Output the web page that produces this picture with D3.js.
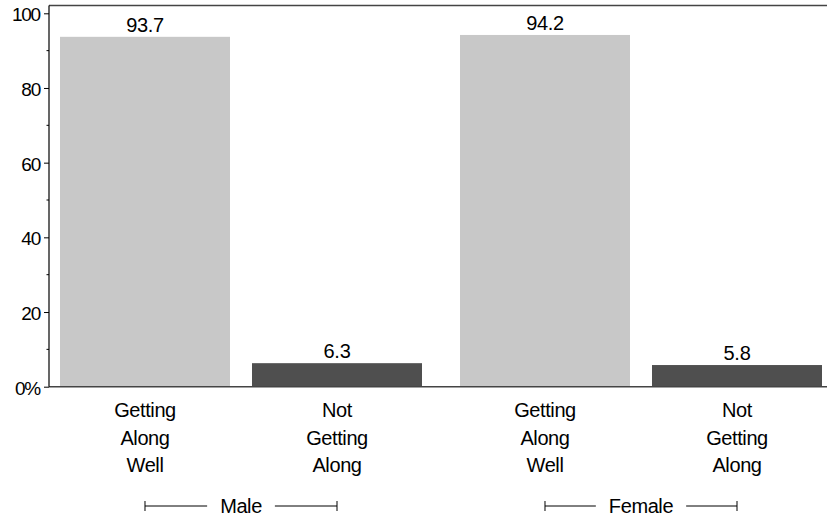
<!DOCTYPE html>
<html><head><meta charset="utf-8">
<script src="https://cdn.jsdelivr.net/npm/d3@7"></script>
<style>
body{margin:0;background:#fff;}
svg text{font-family:"Liberation Sans",Arial,Helvetica,sans-serif;fill:#000;}
</style></head>
<body><svg id="c" width="827" height="517"></svg>
<script>
const groups = ["Male", "Female"];
const categories = ["Getting Along Well", "Not Getting Along"];
const categoryLines = [["Getting", "Along", "Well"], ["Not", "Getting", "Along"]];
const maleValues = [93.7, 6.3];
const femaleValues = [94.2, 5.8];
const valueLabels = [["93.7", "6.3"], ["94.2", "5.8"]];
const yTicks = [0, 20, 40, 60, 80, 100];
const yTickLabels = ["0%", "20", "40", "60", "80", "100"];
const yMinorTicks = [10, 30, 50, 70, 90];
const colors = ["#c8c8c8", "#4f4f4f"];

(function(){
const seriesByGroup = [maleValues, femaleValues];
const svg = d3.select("#c");
const axisX = 49, frameTop = 5.5, frameRight = 827;
const y = d3.scaleLinear().domain([0, 100]).range([386.7, 13.3]);
const x0 = d3.scaleBand().domain(groups).range([60, 822]).paddingInner(0.095).paddingOuter(0);
const x1 = d3.scaleBand().domain(categories).range([0, x0.bandwidth()]).paddingInner(0.1146).paddingOuter(0);

const data = [];
groups.forEach((g, gi) => categories.forEach((c, ci) => data.push({g, c, ci, gi, v: seriesByGroup[gi][ci], label: valueLabels[gi][ci]})));

svg.selectAll("rect.bar").data(data).enter().append("rect")
  .attr("x", d => x0(d.g) + x1(d.c))
  .attr("y", d => y(d.v))
  .attr("width", x1.bandwidth())
  .attr("height", d => y(0) - y(d.v))
  .attr("fill", d => colors[d.ci]);

svg.selectAll("text.val").data(data).enter().append("text")
  .attr("x", d => x0(d.g) + x1(d.c) + x1.bandwidth() / 2)
  .attr("y", d => y(d.v) - 5)
  .attr("text-anchor", "middle")
  .style("font-size", "20px").style("letter-spacing", "-0.3px")
  .text(d => d.label);

svg.append("line").attr("x1", axisX).attr("x2", frameRight).attr("y1", frameTop).attr("y2", frameTop).attr("stroke", "#444").attr("stroke-width", 1.5);
svg.append("line").attr("x1", axisX).attr("x2", frameRight).attr("y1", y(0)).attr("y2", y(0)).attr("stroke", "#444").attr("stroke-width", 1.5);

const yAxis = d3.axisLeft(y).tickValues(yTicks).tickSize(5).tickPadding(4).tickFormat((d, i) => yTickLabels[i]);
const ga = svg.append("g").attr("transform", `translate(${axisX},0)`).call(yAxis);
ga.attr("font-family", null).attr("font-size", null);
ga.select(".domain").attr("d", `M0,${frameTop}V${y(0)}`).attr("stroke", "#000").attr("stroke-width", 1.2);
ga.selectAll(".tick text").style("font-size", "19px").style("letter-spacing", "-1.2px").attr("dy", "0.4em");
ga.selectAll(".tick line").attr("stroke", "#000");
ga.selectAll(".minor").data(yMinorTicks).enter().append("line").attr("class", "minor")
  .attr("x1", -2.5).attr("x2", 0).attr("y1", d => y(d)).attr("y2", d => y(d)).attr("stroke", "#000");

data.forEach(d => {
  const cx = x0(d.g) + x1(d.c) + x1.bandwidth() / 2;
  const t = svg.append("text").attr("text-anchor", "middle").style("font-size", "20px").style("letter-spacing", "-0.4px");
  categoryLines[d.ci].forEach((ln, li) => t.append("tspan").attr("x", cx).attr("y", 417 + li * 27.5).text(ln));
});

groups.forEach(g => {
  const a = x0(g) + x1(categories[0]) + x1.bandwidth() / 2;
  const b = x0(g) + x1(categories[1]) + x1.bandwidth() / 2;
  const mid = (a + b) / 2;
  const t = svg.append("text").attr("x", mid).attr("y", 513).attr("text-anchor", "middle")
    .style("font-size", "20px").style("letter-spacing", "-0.4px").text(g);
  const w = t.node().getComputedTextLength();
  const ly = 506, gap = 13;
  svg.append("path").attr("d", `M${a},${ly - 5}V${ly + 5}M${a},${ly}H${mid - w / 2 - gap}M${mid + w / 2 + gap},${ly}H${b}M${b},${ly - 5}V${ly + 5}`)
    .attr("stroke", "#000").attr("fill", "none").attr("stroke-width", 1);
});
})();
</script></body></html>
